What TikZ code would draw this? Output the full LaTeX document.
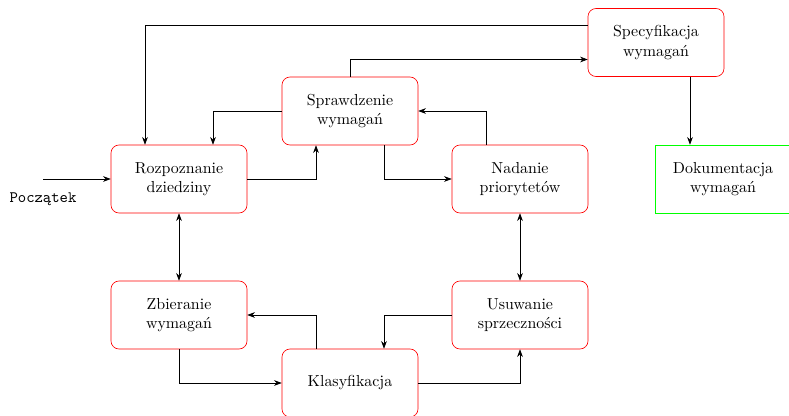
\documentclass[tikz,border=0pt]{standalone}
\usepackage{fontspec}
\usetikzlibrary{arrows.meta,calc}

\definecolor{docgreen}{RGB}{0,255,0}
\tikzset{
	stage/.style={draw=red, rounded corners=5pt, minimum width=3cm, minimum height=1.5cm, align=center},
	docbox/.style={draw=docgreen, minimum width=3cm, minimum height=1.5cm, align=center},
	flow/.style={-{Stealth}},
	both/.style={{Stealth}-{Stealth}}
}

\begin{document}
\begin{tikzpicture}[x=0.6277pt,y=0.6277pt,yscale=-1,xscale=1]
	\useasboundingbox (0,0) rectangle (789,416);

	% stages
	\node[stage] (spec) at (656,42.5) {Specyfikacja\\wymagań};
	\node[stage] (sprawdz) at (350,111) {Sprawdzenie\\wymagań};
	\node[stage] (rozp) at (179,179) {Rozpoznanie\\dziedziny};
	\node[stage] (nad) at (520,179) {Nadanie\\priorytetów};
	\node[docbox] (dok) at (723,179) {Dokumentacja\\wymagań};
	\node[stage] (zbier) at (179,315) {Zbieranie\\wymagań};
	\node[stage] (usuw) at (520,315) {Usuwanie\\sprzeczności};
	\node[stage] (klas) at (350,383) {Klasyfikacja};

	% start
	\coordinate (start) at (43,179);
	\node[font=\ttfamily] (poczatek) at (43,199) {Początek};
	\draw[flow] (start) -- (rozp.west);

	% helper points
	\coordinate (specout) at ($(spec.south)+(34,0)$);

	% connectors
	\draw[flow] ($(spec.west)+(0,-17)$) -| ($(rozp.north)+(-34,0)$);
	\draw[flow] (sprawdz.north) |- ($(spec.west)+(0,17)$);
	\draw[flow] (specout) -- (specout |- dok.north);
	\draw[flow] (rozp.east) -| ($(sprawdz.south)+(-34,0)$);
	\draw[flow] (sprawdz.west) -| ($(rozp.north)+(34,0)$);
	\draw[flow] ($(sprawdz.south)+(34,0)$) |- (nad.west);
	\draw[flow] ($(nad.north)+(-34,0)$) |- (sprawdz.east);
	\draw[both] (rozp.south) -- (zbier.north);
	\draw[both] (nad.south) -- (usuw.north);
	\draw[flow] (zbier.south) |- (klas.west);
	\draw[flow] ($(klas.north)+(-34,0)$) |- (zbier.east);
	\draw[flow] (klas.east) -| (usuw.south);
	\draw[flow] (usuw.west) -| ($(klas.north)+(34,0)$);
\end{tikzpicture}
\end{document}
